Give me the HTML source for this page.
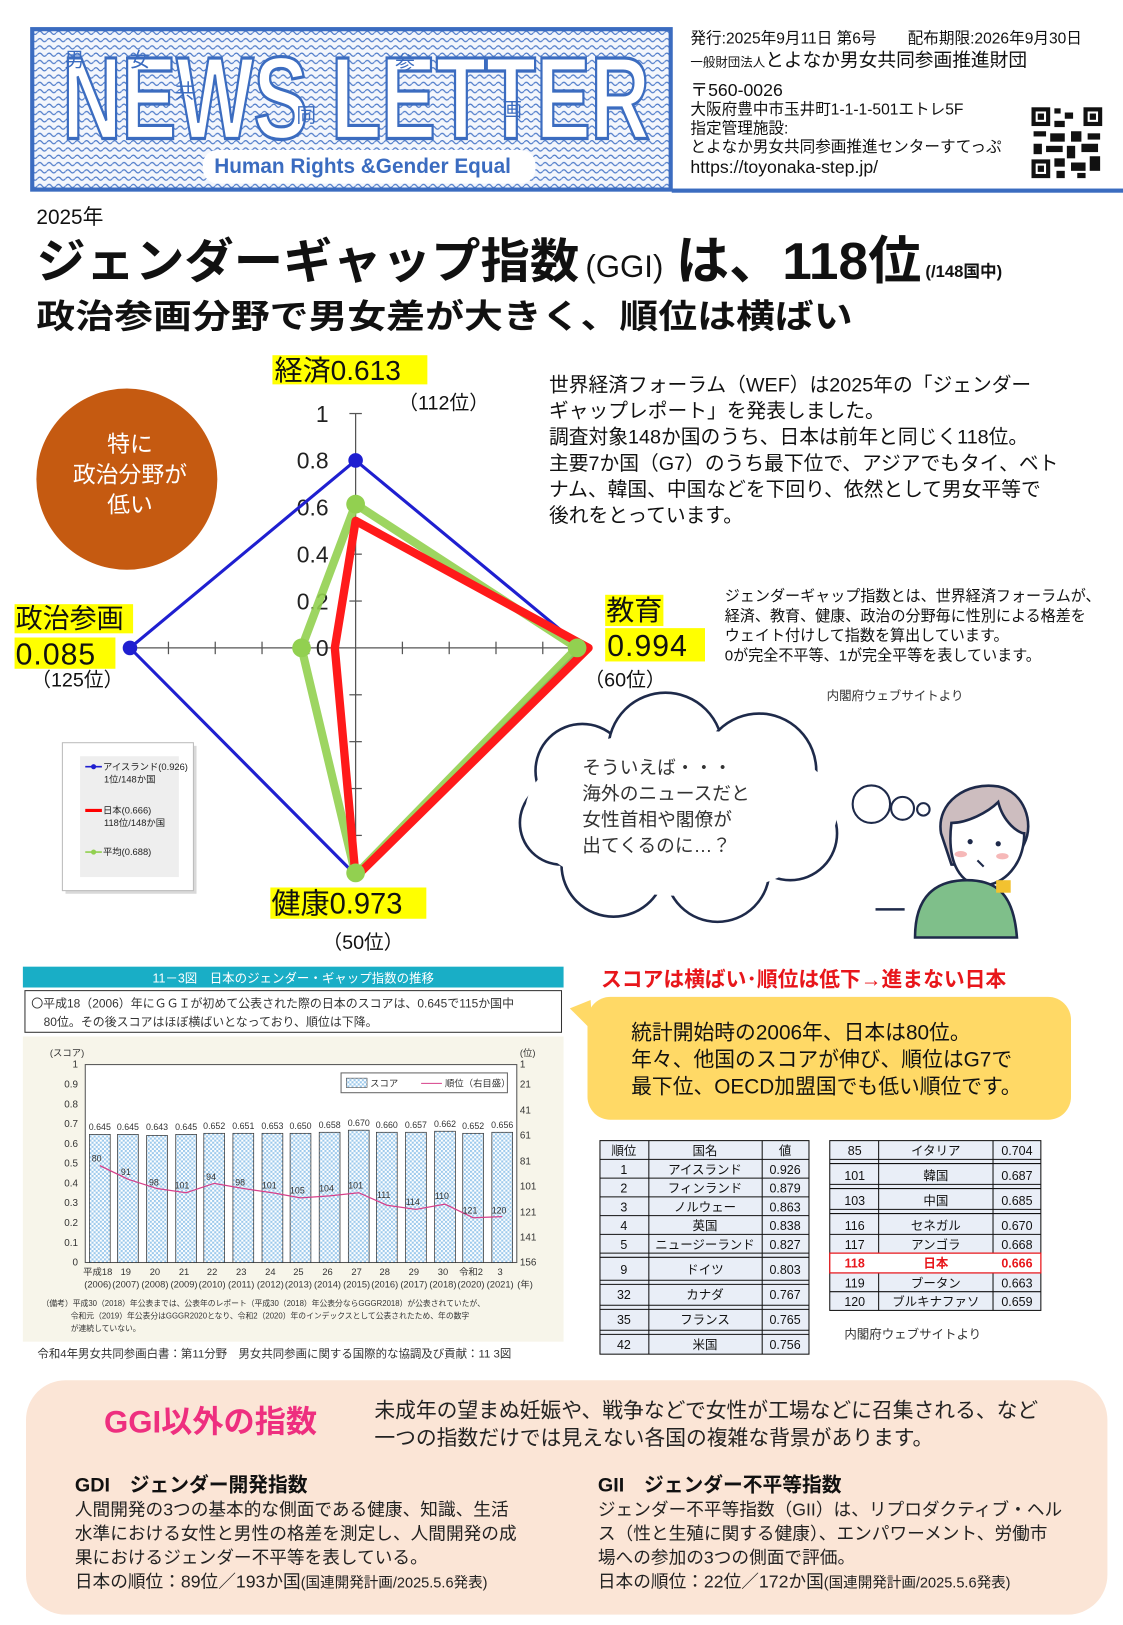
<!DOCTYPE html>
<html><head><meta charset="utf-8"><style>
html,body{margin:0;padding:0;background:#fff;}
svg{display:block;}
text{font-family:"Liberation Sans","Noto Sans CJK JP",sans-serif;}
</style></head><body>
<svg width="1123" height="1625" viewBox="0 0 1080 1560" preserveAspectRatio="none" xmlns="http://www.w3.org/2000/svg">
<defs>
<pattern id="dots" width="9" height="7" patternUnits="userSpaceOnUse"><rect width="9" height="7" fill="#f3f6fc"/><path d="M0 3.5 Q2.25 0.5 4.5 3.5 T9 3.5" fill="none" stroke="#4a78c8" stroke-width="1.1"/></pattern>
<pattern id="chk" width="4" height="4" patternUnits="userSpaceOnUse"><rect width="4" height="4" fill="#fff"/><rect width="2" height="2" fill="#9cc9ec"/><rect x="2" y="2" width="2" height="2" fill="#9cc9ec"/></pattern>
</defs>
<rect width="1080" height="1560" fill="#fff"/>
<!-- header -->
<rect x="31" y="28" width="614" height="154" fill="url(#dots)" stroke="#3b6cc0" stroke-width="4"/>
<text x="60" y="133" font-size="112" font-weight="bold" fill="#fff" stroke="#3b6cc0" stroke-width="3" textLength="565" lengthAdjust="spacingAndGlyphs">NEWS LETTER</text>
<g font-size="19" fill="#3b6cc0"><text x="62" y="64">男</text><text x="125" y="64">女</text><text x="168" y="94">共</text><text x="285" y="117">同</text><text x="380" y="67">参</text><text x="483" y="112">画</text></g>
<rect x="195" y="144" width="320" height="32" rx="14" fill="#fff"/>
<text x="206" y="166" font-size="20" font-weight="bold" fill="#3b6cc0">Human Rights &amp;Gender Equal</text>
<g font-size="15" fill="#111">
<text x="664" y="42">発行:2025年9月11日 第6号　　配布期限:2026年9月30日</text>
<text x="664" y="64"><tspan font-size="12">一般財団法人</tspan><tspan font-size="18">とよなか男女共同参画推進財団</tspan></text>
<text x="664" y="92" font-size="17">〒560-0026</text>
<text x="664" y="110">大阪府豊中市玉井町1-1-1-501エトレ5F</text>
<text x="664" y="128">指定管理施設:</text>
<text x="664" y="146">とよなか男女共同参画推進センターすてっぷ</text>
<text x="664" y="166" font-size="17">https://toyonaka-step.jp/</text>
</g>
<g fill="#111"><rect x="992" y="103" width="68" height="68" fill="#fff"/>
<rect x="992" y="103" width="18" height="18"/><rect x="996" y="107" width="10" height="10" fill="#fff"/><rect x="998" y="109" width="6" height="6"/>
<rect x="1042" y="103" width="18" height="18"/><rect x="1046" y="107" width="10" height="10" fill="#fff"/><rect x="1048" y="109" width="6" height="6"/>
<rect x="992" y="153" width="18" height="18"/><rect x="996" y="157" width="10" height="10" fill="#fff"/><rect x="998" y="159" width="6" height="6"/>
<rect x="1014" y="104" width="6" height="5"/><rect x="1024" y="108" width="8" height="6"/><rect x="1014" y="116" width="10" height="6"/><rect x="994" y="126" width="12" height="5"/><rect x="1010" y="128" width="14" height="8"/><rect x="1030" y="126" width="10" height="10"/><rect x="1046" y="128" width="12" height="6"/><rect x="994" y="138" width="8" height="10"/><rect x="1006" y="140" width="16" height="6"/><rect x="1026" y="140" width="8" height="12"/><rect x="1040" y="138" width="16" height="8"/><rect x="1014" y="152" width="10" height="8"/><rect x="1030" y="156" width="14" height="8"/><rect x="1048" y="150" width="10" height="14"/><rect x="1016" y="164" width="8" height="7"/><rect x="1036" y="166" width="8" height="5"/></g>
<rect x="646" y="181" width="434" height="4" fill="#3b6cc0"/>
<!-- titles -->
<text x="35" y="215" font-size="20" fill="#111">2025年</text>
<text x="35" y="267" font-size="46" font-weight="bold" fill="#111" textLength="522" lengthAdjust="spacingAndGlyphs">ジェンダーギャップ指数</text>
<text x="563" y="266" font-size="30" fill="#111" font-family="Liberation Serif">(GGI)</text>
<text x="650" y="268" font-size="50" font-weight="bold" fill="#111" textLength="236" lengthAdjust="spacingAndGlyphs">は、118位</text>
<text x="890" y="266" font-size="16" font-weight="bold" fill="#111">(/148国中)</text>
<text x="35" y="315" font-size="32" font-weight="bold" fill="#111" textLength="785" lengthAdjust="spacingAndGlyphs">政治参画分野で男女差が大きく、順位は横ばい</text>
<!-- circle -->
<circle cx="122" cy="460" r="87" fill="#c55a11"/>
<g font-size="22" fill="#fff" text-anchor="middle"><text x="125" y="434">特に</text><text x="125" y="463">政治分野が</text><text x="125" y="492">低い</text></g>
<!-- radar -->
<g stroke="#555" stroke-width="1.2">
<line x1="342" y1="397" x2="342" y2="845"/><line x1="120" y1="622" x2="565" y2="622"/>
<line x1="336" y1="397" x2="348" y2="397"/><line x1="336" y1="442" x2="348" y2="442"/><line x1="336" y1="487" x2="348" y2="487"/><line x1="336" y1="532" x2="348" y2="532"/><line x1="336" y1="577" x2="348" y2="577"/><line x1="336" y1="667" x2="348" y2="667"/><line x1="336" y1="712" x2="348" y2="712"/><line x1="336" y1="757" x2="348" y2="757"/><line x1="336" y1="802" x2="348" y2="802"/>
<line x1="162" y1="616" x2="162" y2="628"/><line x1="207" y1="616" x2="207" y2="628"/><line x1="252" y1="616" x2="252" y2="628"/><line x1="297" y1="616" x2="297" y2="628"/><line x1="387" y1="616" x2="387" y2="628"/><line x1="432" y1="616" x2="432" y2="628"/><line x1="477" y1="616" x2="477" y2="628"/><line x1="522" y1="616" x2="522" y2="628"/>
</g>
<g font-size="22" fill="#222" text-anchor="end"><text x="316" y="405">1</text><text x="316" y="450">0.8</text><text x="316" y="495">0.6</text><text x="316" y="540">0.4</text><text x="316" y="585">0.2</text><text x="316" y="630">0</text></g>
<polygon points="342,442 560,622 342,840 125,622" fill="none" stroke="#1f1fd0" stroke-width="3"/>
<polygon points="342,484 555,622 342,840 290,622" fill="none" stroke="#92d050" stroke-width="8" stroke-linejoin="round" opacity="0.9"/>
<polygon points="342,500 566,622 342,842 322,622" fill="none" stroke="#ff1a1a" stroke-width="8" stroke-linejoin="round"/>
<g fill="#1f1fd0"><circle cx="342" cy="442" r="7"/><circle cx="125" cy="622" r="7"/></g>
<g fill="#92d050"><circle cx="342" cy="484" r="9"/><circle cx="290" cy="622" r="9"/><circle cx="555" cy="622" r="9"/><circle cx="342" cy="838" r="9"/></g>
<rect x="262" y="341" width="149" height="28" fill="#ffff00"/><text x="264" y="365" font-size="27" fill="#111">経済0.613</text>
<text x="383" y="393" font-size="19" fill="#111">（112位）</text>
<rect x="582" y="571" width="56" height="30" fill="#ffff00"/><text x="583" y="595" font-size="27" fill="#111">教育</text>
<rect x="582" y="603" width="96" height="32" fill="#ffff00"/><text x="584" y="630" font-size="29" fill="#111" letter-spacing="1">0.994</text>
<text x="562" y="659" font-size="19" fill="#111">（60位）</text>
<rect x="14" y="580" width="114" height="28" fill="#ffff00"/><text x="15" y="603" font-size="26" fill="#111">政治参画</text>
<rect x="14" y="612" width="97" height="30" fill="#ffff00"/><text x="15" y="638" font-size="29" fill="#111" letter-spacing="1">0.085</text>
<text x="30" y="659" font-size="19" fill="#111">（125位）</text>
<rect x="260" y="852" width="150" height="30" fill="#ffff00"/><text x="261" y="877" font-size="28" fill="#111">健康0.973</text>
<text x="310" y="911" font-size="19" fill="#111">（50位）</text>
<!-- legend -->
<rect x="63" y="716" width="126" height="142" fill="#000" opacity="0.15"/>
<rect x="60" y="713" width="126" height="142" fill="#fff" stroke="#bbb"/>
<rect x="77" y="726" width="95" height="116" fill="#eee"/>
<g font-size="9" fill="#222">
<line x1="82" y1="736" x2="98" y2="736" stroke="#1f1fd0" stroke-width="1.5"/><circle cx="90" cy="736" r="2.5" fill="#1f1fd0"/><text x="99" y="739">アイスランド(0.926)</text><text x="100" y="751">1位/148か国</text>
<line x1="82" y1="778" x2="98" y2="778" stroke="#f00" stroke-width="3"/><text x="99" y="781">日本(0.666)</text><text x="100" y="793">118位/148か国</text>
<line x1="82" y1="818" x2="98" y2="818" stroke="#92d050" stroke-width="1.5"/><circle cx="90" cy="818" r="2.5" fill="#92d050"/><text x="99" y="821">平均(0.688)</text>
</g>
<!-- paragraph -->
<g font-size="19" fill="#111">
<text x="528" y="376">世界経済フォーラム（WEF）は2025年の「ジェンダー</text>
<text x="528" y="401">ギャップレポート」を発表しました。</text>
<text x="528" y="426">調査対象148か国のうち、日本は前年と同じく118位。</text>
<text x="528" y="451">主要7か国（G7）のうち最下位で、アジアでもタイ、ベト</text>
<text x="528" y="476">ナム、韓国、中国などを下回り、依然として男女平等で</text>
<text x="528" y="501">後れをとっています。</text>
</g>
<g font-size="14.5" fill="#111">
<text x="697" y="577">ジェンダーギャップ指数とは、世界経済フォーラムが、</text>
<text x="697" y="596">経済、教育、健康、政治の分野毎に性別による格差を</text>
<text x="697" y="615">ウェイト付けして指数を算出しています。</text>
<text x="697" y="634">0が完全不平等、1が完全平等を表しています。</text>
</g>
<text x="795" y="672" font-size="12" fill="#333">内閣府ウェブサイトより</text>
<!-- cloud -->
<g fill="#fff" stroke="#1e2a4a" stroke-width="2.5">
<circle cx="560" cy="740" r="45"/><circle cx="640" cy="720" r="55"/><circle cx="730" cy="740" r="55"/><circle cx="760" cy="800" r="45"/><circle cx="690" cy="835" r="50"/><circle cx="590" cy="830" r="50"/><circle cx="540" cy="790" r="40"/>
</g>
<ellipse cx="655" cy="780" rx="150" ry="80" fill="#fff"/>
<g fill="#fff" stroke="#1e2a4a" stroke-width="2"><circle cx="838" cy="772" r="18"/><circle cx="868" cy="776" r="11"/><circle cx="888" cy="777" r="6"/></g>
<g font-size="18" fill="#333"><text x="560" y="743">そういえば・・・</text><text x="560" y="768">海外のニュースだと</text><text x="560" y="793">女性首相や閣僚が</text><text x="560" y="818">出てくるのに…？</text></g>
<!-- girl -->
<path d="M905 800 C900 770 930 750 960 755 C985 760 995 790 985 810 L975 830 L915 830 Z" fill="#cdbdbf" stroke="#1e2a4a" stroke-width="2.5"/>
<path d="M915 790 C930 790 950 780 960 770 C965 790 980 800 985 800 C985 830 965 850 945 850 C925 850 910 830 915 790Z" fill="#fff" stroke="#1e2a4a" stroke-width="2.5"/>
<circle cx="933" cy="808" r="2.5" fill="#1e2a4a"/><circle cx="960" cy="810" r="2.5" fill="#1e2a4a"/>
<ellipse cx="924" cy="820" rx="6" ry="3" fill="#f6b8b8"/><ellipse cx="964" cy="822" rx="6" ry="3" fill="#f6b8b8"/>
<path d="M940 826 L946 832" stroke="#1e2a4a" stroke-width="2"/>
<path d="M880 900 C880 860 900 845 930 845 C960 845 975 860 978 900 Z" fill="#7fbf8a" stroke="#1e2a4a" stroke-width="2.5"/>
<rect x="958" y="845" width="14" height="12" fill="#f2c230"/>
<line x1="842" y1="873" x2="870" y2="873" stroke="#1e2a4a" stroke-width="2.5"/>
<!-- bar chart -->
<rect x="22" y="928" width="520" height="20" fill="#19aec6"/>
<text x="282" y="943" font-size="12" fill="#fff" text-anchor="middle">11－3図　日本のジェンダー・ギャップ指数の推移</text>
<rect x="24" y="951" width="516" height="40" fill="#fff" stroke="#333"/>
<text x="30" y="967" font-size="11.5" fill="#333">〇平成18（2006）年にＧＧＩが初めて公表された際の日本のスコアは、0.645で115か国中</text>
<text x="42" y="985" font-size="11.5" fill="#333">80位。その後スコアはほぼ横ばいとなっており、順位は下降。</text>
<rect x="22" y="995" width="520" height="293" fill="#f7f5ea"/>
<rect x="82" y="1022" width="415" height="190" fill="#fff" stroke="#555"/>
<g font-size="9.5" fill="#333" text-anchor="end"><text x="75" y="1025">1</text><text x="75" y="1044">0.9</text><text x="75" y="1063">0.8</text><text x="75" y="1082">0.7</text><text x="75" y="1101">0.6</text><text x="75" y="1120">0.5</text><text x="75" y="1139">0.4</text><text x="75" y="1158">0.3</text><text x="75" y="1177">0.2</text><text x="75" y="1196">0.1</text><text x="75" y="1215">0</text></g>
<text x="48" y="1014" font-size="9" fill="#333">(スコア)</text><text x="500" y="1014" font-size="9" fill="#333">(位)</text>
<g font-size="9.5" fill="#333"><text x="500" y="1025">1</text><text x="500" y="1044">21</text><text x="500" y="1069">41</text><text x="500" y="1093">61</text><text x="500" y="1118">81</text><text x="500" y="1142">101</text><text x="500" y="1167">121</text><text x="500" y="1191">141</text><text x="500" y="1215">156</text></g>
<g fill="url(#chk)" stroke="#333" stroke-width="0.7">
<rect x="86" y="1089" width="20" height="123"/><rect x="113" y="1089" width="20" height="123"/><rect x="141" y="1090" width="20" height="122"/><rect x="169" y="1089" width="20" height="123"/><rect x="196" y="1088" width="20" height="124"/><rect x="224" y="1088" width="20" height="124"/><rect x="252" y="1088" width="20" height="124"/><rect x="279" y="1088" width="20" height="124"/><rect x="307" y="1087" width="20" height="125"/><rect x="335" y="1085" width="20" height="127"/><rect x="362" y="1087" width="20" height="125"/><rect x="390" y="1087" width="20" height="125"/><rect x="418" y="1086" width="20" height="126"/><rect x="445" y="1088" width="20" height="124"/><rect x="473" y="1087" width="20" height="125"/>
</g>
<g font-size="8.5" fill="#333" text-anchor="middle">
<text x="96" y="1085">0.645</text><text x="123" y="1085">0.645</text><text x="151" y="1085">0.643</text><text x="179" y="1085">0.645</text><text x="206" y="1084">0.652</text><text x="234" y="1084">0.651</text><text x="262" y="1084">0.653</text><text x="289" y="1084">0.650</text><text x="317" y="1083">0.658</text><text x="345" y="1081">0.670</text><text x="372" y="1083">0.660</text><text x="400" y="1083">0.657</text><text x="428" y="1082">0.662</text><text x="455" y="1084">0.652</text><text x="483" y="1083">0.656</text>
</g>
<polyline points="96,1119 123,1132 151,1141 179,1145 206,1136 234,1141 262,1145 289,1150 317,1148 345,1145 372,1157 400,1161 428,1156 455,1169 483,1168" fill="none" stroke="#d6408a" stroke-width="1.2"/>
<g font-size="8.5" fill="#333" text-anchor="middle">
<text x="93" y="1115">80</text><text x="121" y="1128">91</text><text x="148" y="1138">98</text><text x="175" y="1141">101</text><text x="203" y="1133">94</text><text x="231" y="1138">98</text><text x="259" y="1141">101</text><text x="286" y="1146">105</text><text x="314" y="1144">104</text><text x="342" y="1141">101</text><text x="369" y="1150">111</text><text x="397" y="1157">114</text><text x="425" y="1151">110</text><text x="452" y="1165">121</text><text x="480" y="1165">120</text>
</g>
<rect x="328" y="1030" width="160" height="19" fill="#fff" stroke="#666"/>
<rect x="333" y="1035" width="20" height="9" fill="url(#chk)" stroke="#333" stroke-width="0.5"/>
<text x="356" y="1043" font-size="9" fill="#333">スコア</text><line x1="405" y1="1040" x2="425" y2="1040" stroke="#d6408a"/><text x="428" y="1043" font-size="9" fill="#333">順位（右目盛）</text>
<g font-size="9" fill="#333" text-anchor="middle">
<text x="94" y="1224">平成18</text><text x="121" y="1224">19</text><text x="149" y="1224">20</text><text x="177" y="1224">21</text><text x="204" y="1224">22</text><text x="232" y="1224">23</text><text x="260" y="1224">24</text><text x="287" y="1224">25</text><text x="315" y="1224">26</text><text x="343" y="1224">27</text><text x="370" y="1224">28</text><text x="398" y="1224">29</text><text x="426" y="1224">30</text><text x="453" y="1224">令和2</text><text x="481" y="1224">3</text>
<text x="94" y="1236">(2006)</text><text x="121" y="1236">(2007)</text><text x="149" y="1236">(2008)</text><text x="177" y="1236">(2009)</text><text x="204" y="1236">(2010)</text><text x="232" y="1236">(2011)</text><text x="260" y="1236">(2012)</text><text x="287" y="1236">(2013)</text><text x="315" y="1236">(2014)</text><text x="343" y="1236">(2015)</text><text x="370" y="1236">(2016)</text><text x="398" y="1236">(2017)</text><text x="426" y="1236">(2018)</text><text x="453" y="1236">(2020)</text><text x="481" y="1236">(2021)</text><text x="505" y="1236">(年)</text>
</g>
<g font-size="7.5" fill="#333"><text x="40" y="1254">（備考）平成30（2018）年公表までは、公表年のレポート（平成30（2018）年公表分ならGGGR2018）が公表されていたが、</text><text x="68" y="1266">令和元（2019）年公表分はGGGR2020となり、令和2（2020）年のインデックスとして公表されたため、年の数字</text><text x="68" y="1278">が連続していない。</text></g>
<text x="36" y="1303" font-size="11" fill="#333">令和4年男女共同参画白書：第11分野　男女共同参画に関する国際的な協調及び貢献：11  3図</text>
<!-- red heading + callout -->
<text x="578" y="947" font-size="20" font-weight="bold" fill="#e8161b">スコアは横ばい･順位は低下→進まない日本</text>
<rect x="565" y="957" width="465" height="118" rx="22" fill="#ffd966"/>
<path d="M568 960 L548 968 L570 990 Z" fill="#ffd966"/>
<g font-size="20" fill="#111"><text x="607" y="998">統計開始時の2006年、日本は80位。</text><text x="607" y="1024">年々、他国のスコアが伸び、順位はG7で</text><text x="607" y="1050">最下位、OECD加盟国でも低い順位です。</text></g>
<!-- tables -->
<g font-size="12" fill="#111" text-anchor="middle">
<rect x="577" y="1095" width="201" height="205" fill="#e9eef7"/>
<g stroke="#111" stroke-width="1" fill="none"><rect x="577" y="1095" width="201" height="205"/><line x1="624" y1="1095" x2="624" y2="1300"/><line x1="733" y1="1095" x2="733" y2="1300"/>
<line x1="577" y1="1113" x2="778" y2="1113"/><line x1="577" y1="1131" x2="778" y2="1131"/><line x1="577" y1="1149" x2="778" y2="1149"/><line x1="577" y1="1167" x2="778" y2="1167"/><line x1="577" y1="1185" x2="778" y2="1185"/><line x1="577" y1="1203" x2="778" y2="1203"/><line x1="577" y1="1207" x2="778" y2="1207"/><line x1="577" y1="1229" x2="778" y2="1229"/><line x1="577" y1="1233" x2="778" y2="1233"/><line x1="577" y1="1253" x2="778" y2="1253"/><line x1="577" y1="1257" x2="778" y2="1257"/><line x1="577" y1="1277" x2="778" y2="1277"/><line x1="577" y1="1281" x2="778" y2="1281"/></g>
<text x="600" y="1109">順位</text><text x="678" y="1109">国名</text><text x="755" y="1109">値</text>
<text x="600" y="1127">1</text><text x="678" y="1127">アイスランド</text><text x="755" y="1127">0.926</text>
<text x="600" y="1145">2</text><text x="678" y="1145">フィンランド</text><text x="755" y="1145">0.879</text>
<text x="600" y="1163">3</text><text x="678" y="1163">ノルウェー</text><text x="755" y="1163">0.863</text>
<text x="600" y="1181">4</text><text x="678" y="1181">英国</text><text x="755" y="1181">0.838</text>
<text x="600" y="1199">5</text><text x="678" y="1199">ニュージーランド</text><text x="755" y="1199">0.827</text>
<text x="600" y="1223">9</text><text x="678" y="1223">ドイツ</text><text x="755" y="1223">0.803</text>
<text x="600" y="1247">32</text><text x="678" y="1247">カナダ</text><text x="755" y="1247">0.767</text>
<text x="600" y="1271">35</text><text x="678" y="1271">フランス</text><text x="755" y="1271">0.765</text>
<text x="600" y="1295">42</text><text x="678" y="1295">米国</text><text x="755" y="1295">0.756</text>
<rect x="798" y="1095" width="203" height="163" fill="#e9eef7"/>
<g stroke="#111" stroke-width="1" fill="none"><rect x="798" y="1095" width="203" height="163"/><line x1="845" y1="1095" x2="845" y2="1258"/><line x1="955" y1="1095" x2="955" y2="1258"/>
<line x1="798" y1="1113" x2="1001" y2="1113"/><line x1="798" y1="1117" x2="1001" y2="1117"/><line x1="798" y1="1137" x2="1001" y2="1137"/><line x1="798" y1="1141" x2="1001" y2="1141"/><line x1="798" y1="1161" x2="1001" y2="1161"/><line x1="798" y1="1165" x2="1001" y2="1165"/><line x1="798" y1="1185" x2="1001" y2="1185"/><line x1="798" y1="1222" x2="1001" y2="1222"/><line x1="798" y1="1240" x2="1001" y2="1240"/></g>
<rect x="798" y="1203" width="203" height="19" fill="#fff" stroke="#e8161b" stroke-width="1.2"/>
<text x="822" y="1109">85</text><text x="900" y="1109">イタリア</text><text x="978" y="1109">0.704</text>
<text x="822" y="1133">101</text><text x="900" y="1133">韓国</text><text x="978" y="1133">0.687</text>
<text x="822" y="1157">103</text><text x="900" y="1157">中国</text><text x="978" y="1157">0.685</text>
<text x="822" y="1181">116</text><text x="900" y="1181">セネガル</text><text x="978" y="1181">0.670</text>
<text x="822" y="1199">117</text><text x="900" y="1199">アンゴラ</text><text x="978" y="1199">0.668</text>
<text x="822" y="1217" fill="#e8161b" font-weight="bold">118</text><text x="900" y="1217" fill="#e8161b" font-weight="bold">日本</text><text x="978" y="1217" fill="#e8161b" font-weight="bold">0.666</text>
<text x="822" y="1236">119</text><text x="900" y="1236">ブータン</text><text x="978" y="1236">0.663</text>
<text x="822" y="1254">120</text><text x="900" y="1254">ブルキナファソ</text><text x="978" y="1254">0.659</text>
</g>
<text x="812" y="1285" font-size="12" fill="#333">内閣府ウェブサイトより</text>
<!-- bottom box -->
<rect x="25" y="1325" width="1040" height="225" rx="38" fill="#fbe5d6"/>
<text x="100" y="1375" font-size="30" font-weight="bold" fill="#ee2f7f">GGI以外の指数</text>
<g font-size="20" fill="#222"><text x="360" y="1361">未成年の望まぬ妊娠や、戦争などで女性が工場などに召集される、など</text><text x="360" y="1387">一つの指数だけでは見えない各国の複雑な背景があります。</text></g>
<text x="72" y="1432" font-size="19" font-weight="bold" fill="#111">GDI　ジェンダー開発指数</text>
<text x="575" y="1432" font-size="19" font-weight="bold" fill="#111">GII　ジェンダー不平等指数</text>
<g font-size="17" fill="#222">
<text x="72" y="1455">人間開発の3つの基本的な側面である健康、知識、生活</text>
<text x="72" y="1478">水準における女性と男性の格差を測定し、人間開発の成</text>
<text x="72" y="1501">果におけるジェンダー不平等を表している。</text>
<text x="72" y="1524">日本の順位：89位／193か国<tspan font-size="14">(国連開発計画/2025.5.6発表)</tspan></text>
<text x="575" y="1455">ジェンダー不平等指数（GII）は、リプロダクティブ・ヘル</text>
<text x="575" y="1478">ス（性と生殖に関する健康）、エンパワーメント、労働市</text>
<text x="575" y="1501">場への参加の3つの側面で評価。</text>
<text x="575" y="1524">日本の順位：22位／172か国<tspan font-size="14">(国連開発計画/2025.5.6発表)</tspan></text>
</g>
</svg>
</body></html>
